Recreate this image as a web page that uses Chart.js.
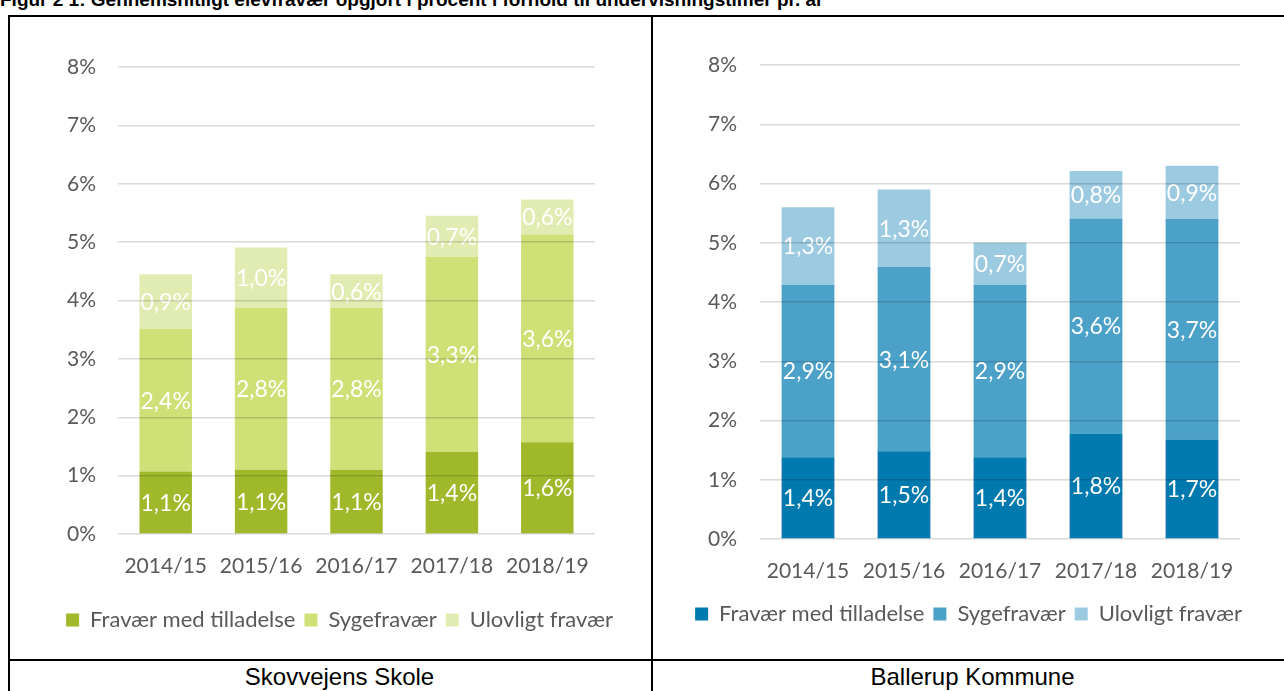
<!DOCTYPE html>
<html>
<head>
<meta charset="utf-8">
<script src="https://cdn.jsdelivr.net/npm/chart.js@4"></script>
<style>
  body { margin: 0; background: #fff; width: 1284px; height: 691px; overflow: hidden; position: relative; }
  #title { position: absolute; left: 0; top: -10px; font: bold 19px "Liberation Sans", Arial, sans-serif; line-height: 19px; white-space: nowrap; color: #000; }
  .line { position: absolute; background: #000; }
  .cellLabel { position: absolute; top: 662px; height: 30px; font: 24px "Liberation Sans", Arial, sans-serif; line-height: 30px; text-align: center; color: #000; }
  canvas { position: absolute; }
</style>
</head>
<body>
<div id="title">Figur 2 1: Gennemsnitligt elevfravær opgjort i procent i forhold til undervisningstimer pr. år</div>

<div class="line" style="left:8px; top:15px; width:1276px; height:2px;"></div>
<div class="line" style="left:8px; top:15px; width:2px; height:676px;"></div>
<div class="line" style="left:651px; top:15px; width:2px; height:676px;"></div>
<div class="line" style="left:8px; top:659px; width:1276px; height:2px;"></div>

<canvas id="skole" width="641" height="642" style="left:10px; top:17px;"></canvas>
<canvas id="kommune" width="631" height="642" style="left:653px; top:17px;"></canvas>

<div class="cellLabel" style="left:19px; width:641px;">Skovvejens Skole</div>
<div class="cellLabel" style="left:657px; width:631px;">Ballerup Kommune</div>

<script>
// data (percent of teaching hours)
const years = ['2014/15', '2015/16', '2016/17', '2017/18', '2018/19'];
const seriesNames = ['Fravær med tilladelse', 'Sygefravær', 'Ulovligt fravær'];
const yTicks = [0, 1, 2, 3, 4, 5, 6, 7, 8];

const skoleTilladelse = [1.07, 1.10, 1.10, 1.41, 1.57];
const skoleSyge = [2.44, 2.77, 2.77, 3.34, 3.56];
const skoleUlovligt = [0.94, 1.04, 0.58, 0.70, 0.60];

const kommuneTilladelse = [1.38, 1.48, 1.38, 1.78, 1.68];
const kommuneSyge = [2.91, 3.11, 2.91, 3.63, 3.72];
const kommuneUlovligt = [1.31, 1.31, 0.71, 0.80, 0.90];

const greens = ['#A0B92A', '#CEE076', '#E1ECB2'];
const blues = ['#007AAE', '#4BA1C7', '#9CCAE0'];

const fontFamily = 'Lato, "Open Sans", sans-serif';
const greyText = '#595959';

function pct(v) {
    return v.toFixed(1).replace('.', ',') + '%';
}

// white value labels in the middle of each segment
const segmentLabels = {
    id: 'segmentLabels',
    afterDatasetsDraw(chart) {
        const ctx = chart.ctx;
        ctx.save();
        ctx.fillStyle = '#fff';
        ctx.font = '23px ' + fontFamily;
        ctx.textAlign = 'center';
        ctx.textBaseline = 'middle';
        chart.data.datasets.forEach((ds, i) => {
            chart.getDatasetMeta(i).data.forEach((bar, j) => {
                ctx.fillText(pct(ds.data[j]), bar.x, (bar.y + bar.base) / 2 + 1);
            });
        });
        ctx.restore();
    }
};

function makeChart(id, series, colors, opt) {
    new Chart(document.getElementById(id), {
        type: 'bar',
        data: {
            labels: years,
            datasets: series.map((d, i) => ({
                label: seriesNames[i],
                data: d,
                backgroundColor: colors[i],
                borderWidth: 0,
                barPercentage: 1,
                categoryPercentage: 0.55
            }))
        },
        options: {
            responsive: false,
            animation: false,
            layout: { padding: { top: opt.top, right: 0, bottom: opt.bottom, left: opt.left } },
            plugins: {
                tooltip: { enabled: false },
                legend: {
                    position: 'bottom',
                    labels: {
                        boxWidth: 13,
                        boxHeight: 13,
                        padding: 9,
                        color: greyText,
                        font: { family: fontFamily, size: 22 }
                    }
                }
            },
            scales: {
                x: {
                    stacked: true,
                    grid: { display: false, drawTicks: false },
                    border: { display: false },
                    ticks: { color: greyText, padding: opt.xPad, font: { family: fontFamily, size: 21 } },
                    afterFit(scale) { scale.height = opt.xHeight; }
                },
                y: {
                    stacked: true,
                    min: 0,
                    max: 8,
                    afterBuildTicks(scale) { scale.ticks = yTicks.map(v => ({ value: v })); },
                    grid: { color: 'rgba(0,0,0,0.15)', lineWidth: 1.5, drawTicks: false, z: 1 },
                    border: { display: false },
                    ticks: {
                        color: greyText,
                        padding: opt.yPad,
                        font: { family: fontFamily, size: 21 },
                        callback: v => v + '%'
                    },
                    afterFit(scale) { scale.width = opt.yWidth; }
                },
                // empty right-hand spacer so the legend centres on the whole cell
                spacer: {
                    position: 'right',
                    grid: { display: false, drawTicks: false },
                    border: { display: false },
                    ticks: { display: false },
                    afterFit(scale) { scale.width = opt.right; }
                }
            }
        },
        plugins: [segmentLabels]
    });
}

makeChart('skole', [skoleTilladelse, skoleSyge, skoleUlovligt], greens,
    { top: 50, left: 18, right: 56, bottom: 18, yWidth: 90, yPad: 22, xHeight: 66, xPad: 20 });
makeChart('kommune', [kommuneTilladelse, kommuneSyge, kommuneUlovligt], blues,
    { top: 48, left: 0, right: 44, bottom: 24, yWidth: 107, yPad: 23, xHeight: 55, xPad: 20 });
</script>
</body>
</html>
